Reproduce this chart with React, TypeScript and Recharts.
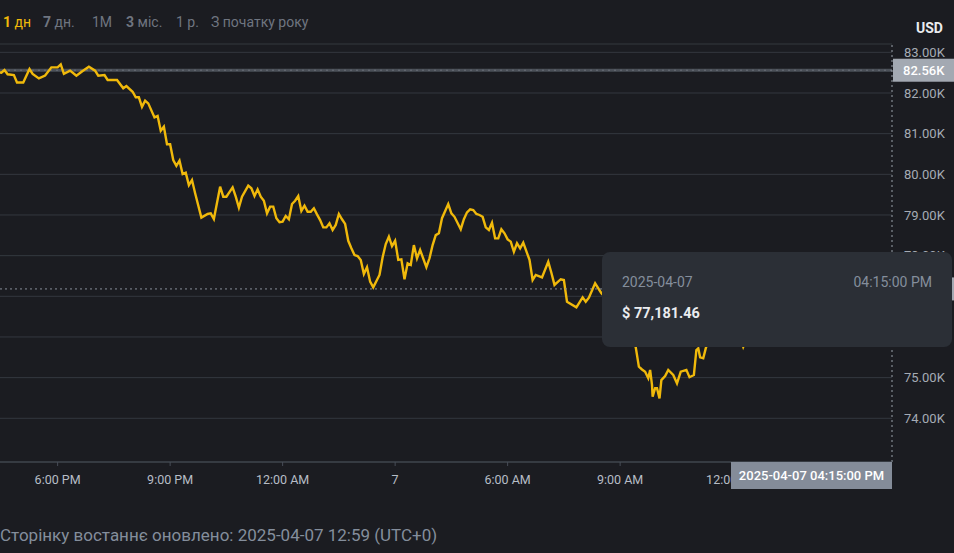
import React from "react";
import { LineChart, Line, XAxis, YAxis, CartesianGrid, ReferenceLine } from "recharts";

// minutes since 2025-04-06 00:00 (UTC+0)
const times = [
  975, 990, 995, 1000, 1010, 1015, 1025, 1035, 1040, 1050, 1060, 1070, 1080, 1085, 1090, 1100, 1110, 1120, 1130, 1140,
  1145, 1155, 1160, 1175, 1185, 1190, 1200, 1205, 1210, 1215, 1220, 1225, 1235, 1240, 1245, 1250, 1255, 1260, 1265, 1270,
  1275, 1280, 1285, 1290, 1295, 1300, 1310, 1320, 1325, 1330, 1340, 1345, 1350, 1360, 1365, 1370, 1375, 1385, 1390, 1395,
  1400, 1405, 1410, 1415, 1420, 1425, 1430, 1435, 1440, 1445, 1450, 1455, 1460, 1465, 1470, 1475, 1480, 1485, 1490, 1495,
  1500, 1505, 1510, 1515, 1520, 1525, 1530, 1535, 1540, 1545, 1550, 1555, 1560, 1565, 1570, 1575, 1580, 1585, 1595, 1600,
  1605, 1610, 1615, 1620, 1625, 1630, 1635, 1640, 1645, 1650, 1655, 1660, 1670, 1675, 1680, 1685, 1690, 1695, 1705, 1710,
  1715, 1725, 1730, 1735, 1740, 1745, 1750, 1755, 1760, 1765, 1770, 1775, 1780, 1785, 1790, 1795, 1800, 1805, 1810, 1815,
  1820, 1825, 1835, 1840, 1845, 1855, 1865, 1870, 1875, 1885, 1890, 1895, 1910, 1920, 1925, 1930, 1940, 1950, 1958, 1965,
  1972, 1980, 1988, 1996, 2005, 2010, 2015, 2020, 2025, 2028, 2031, 2032, 2036, 2039, 2043, 2046, 2052, 2057, 2065, 2071,
  2077, 2086, 2091, 2098, 2102, 2105, 2108, 2113, 2117, 2125, 2132, 2140, 2148, 2156, 2164, 2170, 2177, 2185, 2195, 2205,
  2219,
];

const prices = [
  82540, 82500, 82565, 82460, 82440, 82260, 82260, 82590, 82470, 82360, 82430, 82630, 82630, 82705, 82470, 82550, 82425, 82540, 82645, 82550,
  82425, 82440, 82320, 82320, 82115, 82170, 82030, 81895, 81895, 81660, 81810, 81745, 81400, 81435, 81070, 81170, 80740, 80740, 80350, 80210,
  80335, 80005, 80040, 79735, 79860, 79535, 78935, 79025, 79040, 78900, 79695, 79450, 79450, 79680, 79450, 79180, 79450, 79720, 79655, 79465,
  79630, 79450, 79350, 79040, 79205, 79205, 78920, 78820, 78835, 78975, 78895, 79270, 79350, 79465, 79100, 79230, 79080, 79080, 79165, 79015,
  78875, 78695, 78695, 78795, 78630, 78755, 79025, 78895, 78780, 78365, 78180, 78015, 77990, 77895, 77550, 77715, 77360, 77220, 77525, 77960,
  78285, 78465, 78235, 78365, 77895, 77910, 77420, 77810, 77770, 78260, 77935, 78140, 77715, 77935, 78260, 78505, 78550, 78920, 79270, 79040,
  78955, 78650, 78895, 79065, 79140, 79120, 79025, 79000, 78955, 78695, 78630, 78810, 78425, 78425, 78650, 78550, 78400, 78345, 78095, 78305,
  78180, 78320, 77895, 77400, 77525, 77465, 77850, 77580, 77280, 77420, 77400, 76865, 76730, 76975, 76865, 76965, 77320, 77075, 76950, 77050,
  76800, 76600, 76350, 76050, 75745, 75270, 75200, 75145, 74985, 75190, 74820, 74530, 74740, 74740, 74490, 74940, 75040, 75190, 75065, 74860,
  75145, 75190, 75010, 75065, 75680, 75720, 75500, 75475, 75720, 76100, 76350, 76200, 76550, 76300, 76450, 76100, 75760, 76050, 76350, 76200,
  76450,
];

const xDomain = [975, 2415];
const xTicks = [1080, 1260, 1440, 1620, 1800, 1980, 2160];
const xTickLabels = ["6:00 PM", "9:00 PM", "12:00 AM", "7", "6:00 AM", "9:00 AM", "12:00 PM"];
const yDomain = [72925, 83205];
const yTicks = [74000, 75000, 76000, 77000, 78000, 79000, 80000, 81000, 82000, 83000];

const refPrice = 82560;
const crossPrice = 77181.46;
const crossTime = 2415;
const crossDate = "2025-04-07";
const crossClock = "04:15:00 PM";

const tabNums = ["1", "7", "1M", "3", "1 р.", "З початку року"];
const tabRests = [" дн", " дн.", "", " міс.", "", ""];
const tabBold = [true, true, false, true, false, false];
const tabLeft = [3, 43, 92, 126, 176, 211];

const footerText = "Сторінку востаннє оновлено: 2025-04-07 12:59 (UTC+0)";
const currency = "USD";

const data = times.map((t, i) => ({ t, p: prices[i] }));

const fmtK = (v: number) => (v / 1000).toFixed(2) + "K";
const fmtMoney = (v: number) =>
  "$ " + v.toLocaleString("en-US", { minimumFractionDigits: 2, maximumFractionDigits: 2 });

const BG = "#1b1c21";
const FONT = "Roboto, 'Noto Sans', sans-serif";

const PriceTag = (props: any) => {
  const vb = props.viewBox || {};
  const x = vb.x + vb.width + 1;
  const y = vb.y;
  return (
    <g>
      <rect x={x} y={y - 11.5} width={70} height={23} fill="#a3a9b2" />
      <text x={x + 10} y={y + 5} fill="#ffffff" fontSize={13} fontFamily={FONT} fontWeight={500}>
        {fmtK(props.value)}
      </text>
    </g>
  );
};

export default function App() {
  return (
    <div
      style={{
        position: "fixed",
        left: 0,
        top: 0,
        width: 954,
        height: 553,
        background: BG,
        overflow: "hidden",
        fontFamily: FONT,
      }}
    >
      {tabNums.map((n, i) => (
        <span
          key={i}
          style={{
            position: "absolute",
            left: tabLeft[i],
            top: 13,
            fontSize: 14,
            lineHeight: "18px",
            color: i === 0 ? "#f0b90b" : "#6f7580",
            whiteSpace: "nowrap",
          }}
        >
          <span style={{ fontWeight: tabBold[i] ? 700 : 400 }}>{n}</span>
          {tabRests[i]}
        </span>
      ))}
      <div
        style={{
          position: "absolute",
          left: 916,
          top: 19,
          fontSize: 14,
          fontWeight: 700,
          color: "#eaecef",
          lineHeight: "18px",
        }}
      >
        {currency}
      </div>

      <div style={{ position: "absolute", left: -8, top: 0 }}>
        <LineChart width={962} height={500} data={data} margin={{ top: 44, right: 0, bottom: 0, left: 0 }}>
          <CartesianGrid vertical={false} stroke="#34383f" strokeWidth={1} />
          <XAxis
            dataKey="t"
            type="number"
            domain={xDomain}
            ticks={xTicks}
            tickFormatter={(v: number) => xTickLabels[xTicks.indexOf(v)]}
            height={38}
            stroke="#474d57"
            tickSize={4}
            tickMargin={9}
            tick={{ fill: "#b7bdc6", fontSize: 12.5, fontFamily: FONT }}
            allowDataOverflow
          />
          <YAxis
            orientation="right"
            type="number"
            domain={yDomain}
            ticks={yTicks}
            tickFormatter={fmtK}
            width={62}
            axisLine={false}
            tickLine={false}
            tickMargin={6}
            tick={{ fill: "#a5abb4", fontSize: 13, fontFamily: FONT, textAnchor: "start" }}
            allowDataOverflow
          />
          <ReferenceLine
            y={refPrice}
            stroke="#4b5058"
            strokeWidth={3}
            label={<PriceTag value={refPrice} />}
          />
          <ReferenceLine y={refPrice} stroke="#6a7079" strokeWidth={1} strokeDasharray="2 4" />
          <Line
            type="linear"
            dataKey="p"
            stroke="#f0b90b"
            strokeWidth={2.4}
            dot={false}
            activeDot={false}
            isAnimationActive={false}
          />
          <ReferenceLine
            y={crossPrice}
            stroke="#8a919b"
            strokeWidth={1}
            strokeDasharray="2 3"
            label={<PriceTag value={crossPrice} />}
          />
          <ReferenceLine x={crossTime} stroke="#9aa1ab" strokeWidth={1} strokeDasharray="2 3" />
        </LineChart>
      </div>

      <div
        style={{
          position: "absolute",
          left: 731,
          top: 462,
          width: 161,
          height: 27,
          background: "#848c99",
          color: "#ffffff",
          fontSize: 13,
          fontWeight: 500,
          lineHeight: "27px",
          textAlign: "center",
          whiteSpace: "nowrap",
        }}
      >
        {crossDate + " " + crossClock}
      </div>

      <div
        style={{
          position: "absolute",
          left: 602,
          top: 252,
          width: 350,
          height: 95,
          background: "#2b2f36",
          borderRadius: 8,
          boxSizing: "border-box",
          padding: "20px 20px 0 20px",
        }}
      >
        <div style={{ display: "flex", justifyContent: "space-between", fontSize: 14, color: "#848e9c", lineHeight: "20px" }}>
          <span>{crossDate}</span>
          <span>{crossClock}</span>
        </div>
        <div style={{ marginTop: 12, fontSize: 14.5, fontWeight: 700, color: "#eaecef", lineHeight: "20px" }}>
          {fmtMoney(crossPrice)}
        </div>
      </div>

      <div
        style={{
          position: "absolute",
          left: 0,
          top: 523,
          fontSize: 17,
          color: "#848e9c",
          lineHeight: "24px",
          whiteSpace: "nowrap",
        }}
      >
        {footerText}
      </div>
    </div>
  );
}
